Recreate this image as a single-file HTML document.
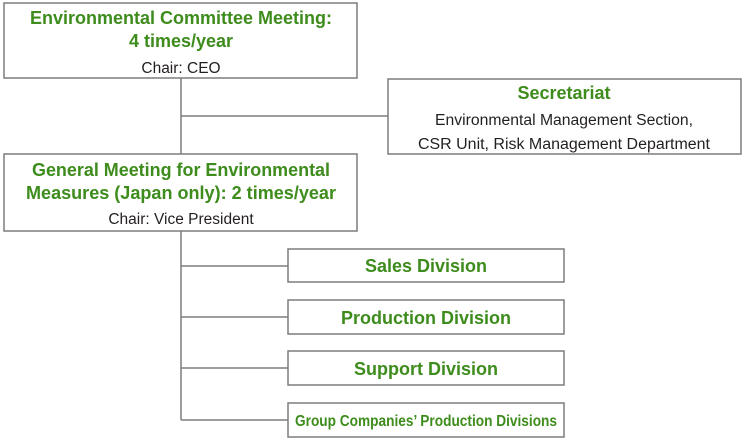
<!DOCTYPE html>
<html><head><style>
body{margin:0;background:#fff;}
svg text{font-family:"Liberation Sans",sans-serif;text-anchor:middle;}
.g{fill:#3d8c1c;font-weight:bold;font-size:18px;}
.k{fill:#231f20;font-size:15.5px;}
</style></head><body>
<svg width="745" height="442" xmlns="http://www.w3.org/2000/svg">
<g stroke="#7f7b7c" stroke-width="1.5" fill="#fff">
<line x1="181" y1="78" x2="181" y2="420"/>
<line x1="181" y1="116" x2="388" y2="116"/>
<line x1="181" y1="266" x2="288" y2="266"/>
<line x1="181" y1="317" x2="288" y2="317"/>
<line x1="181" y1="368" x2="288" y2="368"/>
<line x1="181" y1="420" x2="288" y2="420"/>
<rect x="4" y="3" width="353" height="75"/>
<rect x="388" y="79" width="353" height="75"/>
<rect x="4" y="154" width="353" height="77"/>
<rect x="288" y="249" width="276" height="33"/>
<rect x="288" y="300" width="276" height="34"/>
<rect x="288" y="351" width="276" height="34"/>
<rect x="288" y="403" width="276" height="34"/>
</g>
<text class="g" x="181" y="24" textLength="302" lengthAdjust="spacingAndGlyphs">Environmental Committee Meeting:</text>
<text class="g" x="181" y="47">4 times/year</text>
<text class="k" x="181" y="73">Chair: CEO</text>
<text class="g" x="564" y="99">Secretariat</text>
<text class="k" x="564" y="125" textLength="258" lengthAdjust="spacingAndGlyphs">Environmental Management Section,</text>
<text class="k" x="564" y="149" textLength="292" lengthAdjust="spacingAndGlyphs">CSR Unit, Risk Management Department</text>
<text class="g" x="181" y="176" textLength="298" lengthAdjust="spacingAndGlyphs">General Meeting for Environmental</text>
<text class="g" x="181" y="199" textLength="310" lengthAdjust="spacingAndGlyphs">Measures (Japan only): 2 times/year</text>
<text class="k" x="181" y="224">Chair: Vice President</text>
<text class="g" x="426" y="272">Sales Division</text>
<text class="g" x="426" y="324">Production Division</text>
<text class="g" x="426" y="375">Support Division</text>
<text class="g" x="426" y="426" style="font-size:16px" textLength="262" lengthAdjust="spacingAndGlyphs">Group Companies’ Production Divisions</text>
</svg>
</body></html>
